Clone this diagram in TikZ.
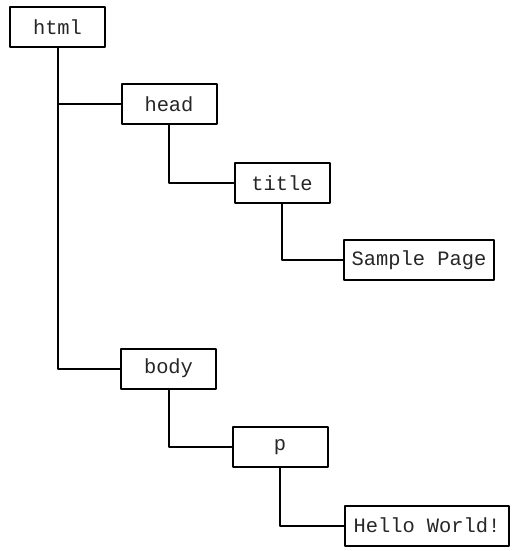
\documentclass[tikz,border=0pt]{standalone}
\usepackage{fontspec}
\setmonofont{Liberation Mono}
\usepackage{tikz}
\tikzset{
  every picture/.style={
    line join=round,
    line cap=round,
  },
  tag/.style={draw, line width=1pt, fill=white, minimum width=47.5pt,
    minimum height=20pt, inner xsep=4pt,
    font=\fontsize{10.2}{11}\selectfont\ttfamily, text=black!85},
  branch/.style={line width=1pt},
}

\begin{document}
\begin{tikzpicture}[x=0.5pt,y=-0.5pt]
\useasboundingbox (0,0) rectangle (528,551);
% the element boxes, one row per level of the tree
\node[tag] (html) at (57.5,27) {html};
\node[tag] (head) at (169,104) {head};
\node[tag] (title) at (282,183) {title};
\node[tag,minimum width=74pt] (sample) at (419,260) {Sample Page};
\node[tag] (body) at (168.5,368.5) {body};
\node[tag] (p) at (280,447) {p};
\node[tag,minimum width=82pt] (hello) at (427,525.5) {Hello World!};
% elbow lines from parent to child
\draw[branch] (html.south) |- (head.west);
\draw[branch] (html.south) |- (body.west);
\draw[branch] (head.south) |- (title.west);
\draw[branch] (title.south) |- (sample.west);
\draw[branch] (body.south) |- (p.west);
\draw[branch] (p.south) |- (hello.west);
\end{tikzpicture}
\end{document}
